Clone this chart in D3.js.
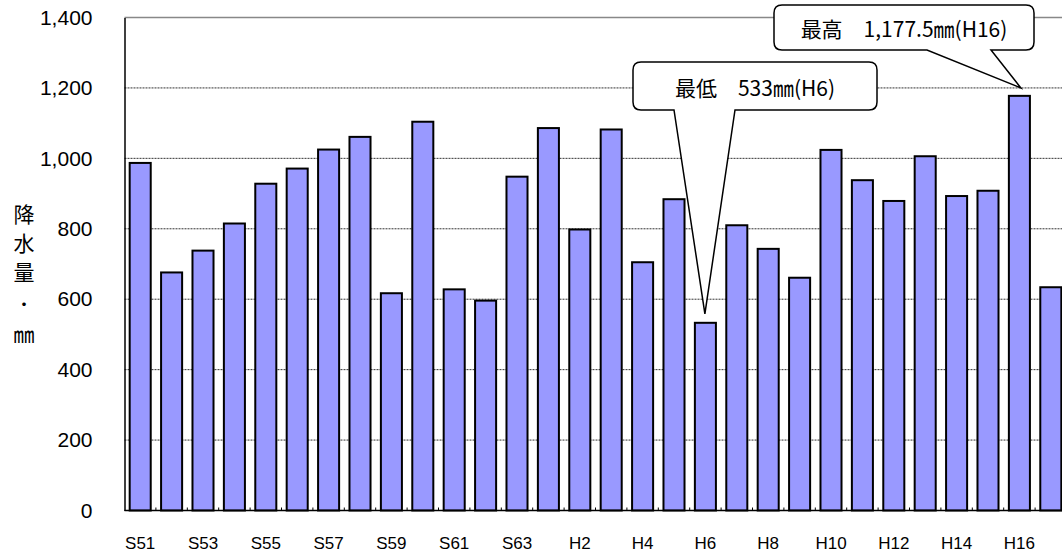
<!DOCTYPE html>
<html><head><meta charset="utf-8">
<script src="https://cdn.jsdelivr.net/npm/d3@7/dist/d3.min.js"></script>
<style>body{margin:0;background:#fff}svg{display:block;overflow:hidden}</style>
</head><body>
<svg id="c" width="1062" height="557"></svg>
<script>
const categories = ["S51","S52","S53","S54","S55","S56","S57","S58","S59","S60","S61","S62","S63",
  "H1","H2","H3","H4","H5","H6","H7","H8","H9","H10","H11","H12","H13","H14","H15","H16","H17"];
const rainfall = [987,676,738,815,928,971,1025,1061,617,1104,628,596,948,
  1086,798,1082,705,884,533,810,743,661,1024,938,879,1006,893,908,1177.5,634];
const yTicks = [0,200,400,600,800,1000,1200,1400];
const tickLabels = categories.filter((d,i)=>i%2===0);
const callouts = [
  {text:"最低　533㎜(H6)", cat:"H6", value:533},
  {text:"最高　1,177.5㎜(H16)", cat:"H16", value:1177.5}
];

const svg = d3.select("#c");
const plotLeft = 124.5, plotTop = 17.5, plotBottom = 510.5, bandW = 31.4;
const x = d3.scaleBand().domain(categories).range([plotLeft, plotLeft + bandW*categories.length]).paddingInner(0.33).paddingOuter(0.165);
const y = d3.scaleLinear().domain([0,1400]).range([plotBottom, plotTop]);
const jp = "'Noto Sans CJK JP', sans-serif";

// gridlines
svg.append("g").selectAll("line").data(yTicks.filter(d=>d>0 && d<1400)).join("line")
  .attr("x1", plotLeft).attr("x2", 1062).attr("y1", d=>y(d)).attr("y2", d=>y(d))
  .attr("stroke", "#333").attr("stroke-width", 1).attr("stroke-dasharray", "2,1");
// top border
svg.append("line").attr("x1", plotLeft).attr("x2", 1062).attr("y1", y(1400)).attr("y2", y(1400))
  .attr("stroke", "#888").attr("stroke-width", 1.5);

// bars
svg.append("g").selectAll("rect").data(categories).join("rect")
  .attr("x", d=>x(d)).attr("width", x.bandwidth())
  .attr("y", (d,i)=>y(rainfall[i])).attr("height", (d,i)=>y(0)-y(rainfall[i]))
  .attr("fill", "#9999FF").attr("stroke", "#000").attr("stroke-width", 2);

// y axis
const yAxis = d3.axisLeft(y).tickValues(yTicks).tickSize(0).tickPadding(32).tickFormat(d3.format(","));
const ga = svg.append("g").attr("transform", `translate(${plotLeft},0)`).call(yAxis);
ga.select(".domain").attr("stroke", "#000").attr("stroke-width", 1.5);
ga.selectAll("text").attr("font-family", "'Liberation Sans', Arial, sans-serif").attr("font-size", 21).attr("fill", "#000");

// x axis
const step = x.step();
const xAxis = d3.axisBottom(x).tickValues(tickLabels).tickSize(0).tickPadding(26);
const gx = svg.append("g").attr("transform", `translate(0,${plotBottom})`).call(xAxis);
gx.select(".domain").remove();
gx.selectAll("text").attr("font-family", "'Liberation Sans Narrow', 'Liberation Sans', Arial, sans-serif").attr("font-size", 17).attr("fill", "#000");
svg.append("line").attr("x1", plotLeft).attr("x2", 1062).attr("y1", plotBottom).attr("y2", plotBottom).attr("stroke", "#000").attr("stroke-width", 1.5);
svg.append("g").selectAll("line").data(d3.range(1, categories.length+1)).join("line")
  .attr("x1", i=>plotLeft + i*step).attr("x2", i=>plotLeft + i*step)
  .attr("y1", plotBottom).attr("y2", plotBottom-3).attr("stroke", "#000").attr("stroke-width", 1);

// y title
const titleChars = ["降","水","量","・","㎜"];
const titleY = [213, 242, 271, 303, 333];
const titleSize = [21, 21, 21, 17, 21];
svg.append("g").selectAll("text").data(titleChars).join("text")
  .attr("x", 24).attr("y", (d,i)=>titleY[i]).attr("text-anchor","middle").attr("dominant-baseline","central")
  .attr("font-family", jp).attr("font-size", (d,i)=>titleSize[i]).attr("fill", "#000").text(d=>d);

// callouts
const boxes = [
  {x0:633, x1:877, y0:62, y1:110, p0:674, p1:735},
  {x0:774, x1:1034, y0:5, y1:50, p0:927, p1:991}
];
callouts.forEach((c,k)=>{
  const b = boxes[k];
  const tx = x(c.cat) + x.bandwidth()/2 + (k===0? -0.5 : 1.5);
  const ty = k===0 ? y(c.value) - 9 : y(1200);
  const r = 8;
  const path = `M${b.x0+r},${b.y0} H${b.x1-r} Q${b.x1},${b.y0} ${b.x1},${b.y0+r} V${b.y1-r} Q${b.x1},${b.y1} ${b.x1-r},${b.y1}
    H${b.p1} L${tx},${ty} L${b.p0},${b.y1} H${b.x0+r} Q${b.x0},${b.y1} ${b.x0},${b.y1-r} V${b.y0+r} Q${b.x0},${b.y0} ${b.x0+r},${b.y0} Z`;
  svg.append("path").attr("d", path).attr("fill", "#fff").attr("stroke", "#000").attr("stroke-width", 1.5).attr("stroke-linejoin","miter");
  svg.append("text").attr("x", (b.x0+b.x1)/2).attr("y", (b.y0+b.y1)/2 + 0.5).attr("text-anchor","middle").attr("dominant-baseline","central")
    .attr("font-family", jp).attr("font-size", 21).attr("fill", "#000").text(c.text);
});
</script>
</body></html>
